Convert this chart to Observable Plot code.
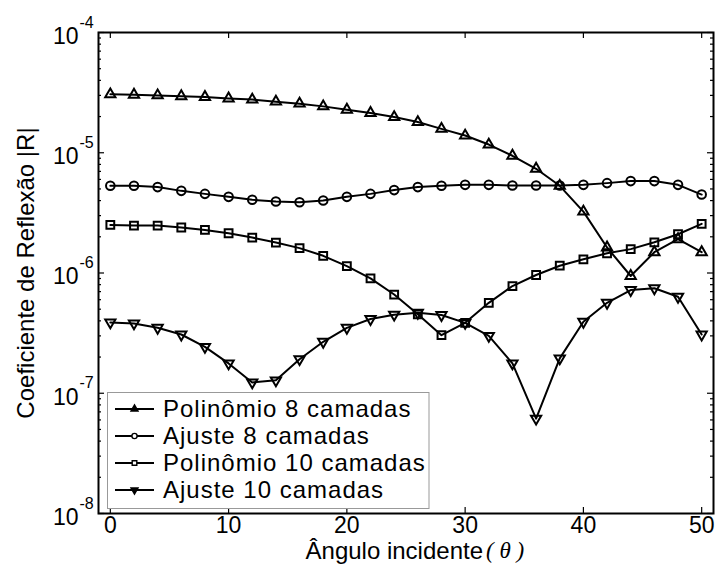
<!DOCTYPE html>
<html><head><meta charset="utf-8">
<script src="https://cdn.jsdelivr.net/npm/d3@7"></script>
<script src="https://cdn.jsdelivr.net/npm/@observablehq/plot@0.6"></script>
<style>body{margin:0;background:#fff} svg{display:block}</style>
</head><body><div id="chart"></div>
<script>
// ---- data ----
const theta = [0,2,4,6,8,10,12,14,16,18,20,22,24,26,28,30,32,34,36,38,40,42,44,46,48,50];
const poly8 = [3.06e-5,3.04e-5,3.0e-5,2.95e-5,2.91e-5,2.83e-5,2.77e-5,2.66e-5,2.56e-5,2.43e-5,2.28e-5,2.14e-5,1.98e-5,1.80e-5,1.58e-5,1.39e-5,1.17e-5,9.44e-6,7.36e-6,5.31e-6,3.24e-6,1.63e-6,9.44e-7,1.49e-6,1.91e-6,1.49e-6];
const fit8 = [5.31e-6,5.31e-6,5.18e-6,4.82e-6,4.55e-6,4.30e-6,4.06e-6,3.93e-6,3.88e-6,4.01e-6,4.30e-6,4.55e-6,4.89e-6,5.18e-6,5.31e-6,5.41e-6,5.41e-6,5.34e-6,5.34e-6,5.34e-6,5.41e-6,5.59e-6,5.81e-6,5.81e-6,5.41e-6,4.49e-6];
const poly10 = [2.51e-6,2.48e-6,2.48e-6,2.39e-6,2.28e-6,2.14e-6,1.97e-6,1.79e-6,1.61e-6,1.39e-6,1.14e-6,9.03e-7,6.62e-7,4.53e-7,3.04e-7,3.85e-7,5.65e-7,7.79e-7,9.62e-7,1.15e-6,1.30e-6,1.46e-6,1.58e-6,1.80e-6,2.10e-6,2.56e-6];
const fit10 = [3.88e-7,3.81e-7,3.50e-7,3.08e-7,2.43e-7,1.77e-7,1.23e-7,1.28e-7,1.92e-7,2.68e-7,3.50e-7,4.14e-7,4.50e-7,4.67e-7,4.47e-7,3.85e-7,3.00e-7,1.77e-7,6.15e-8,1.95e-7,3.93e-7,5.65e-7,7.22e-7,7.46e-7,6.35e-7,3.08e-7];
const seriesNames = ["Polinômio 8 camadas","Ajuste 8 camadas","Polinômio 10 camadas","Ajuste 10 camadas"];
const xTicks = [0,10,20,30,40,50];
const yExponents = [-8,-7,-6,-5,-4];
const xTitle = "Ângulo incidente";
const xTitleSym = "( θ )";
const yTitle = "Coeficiente de Reflexão |R|";

// ---- build table ----
const allSeries = [poly8, fit8, poly10, fit10];
const rows = [];
allSeries.forEach((vals, k) => vals.forEach((v, j) => rows.push({theta: theta[j], value: v, series: seriesNames[k], k})));
const yMajor = yExponents.map(e => Math.pow(10, e));
const yMinor = [];
yExponents.slice(0, -1).forEach(e => { for (let m = 2; m <= 9; m++) yMinor.push(m * Math.pow(10, e)); });

const W = 716, H = 575, ML = 98, MR = 3, MT = 32, MB = 62;
const FW = W - ML - MR, FH = H - MT - MB;
const FONT = "Liberation Sans, Arial, Helvetica, sans-serif";

const symCfg = [
  {symbol: "triangle", r: 3.8, rotate: 0, legendFill: "black"},
  {symbol: "circle", r: 4.3, rotate: 0, legendFill: "white"},
  {symbol: "square", r: 4.4, rotate: 0, legendFill: "white"},
  {symbol: "triangle", r: 3.8, rotate: 180, legendFill: "black"}
];

const plot = Plot.plot({
  width: W, height: H,
  marginLeft: ML, marginRight: MR, marginTop: MT, marginBottom: MB,
  style: {fontFamily: FONT, background: "white", color: "black"},
  x: {domain: [-1, 51], axis: null},
  y: {type: "log", domain: [1e-8, 1e-4], axis: null},
  marks: [
    Plot.line(rows, {x: "theta", y: "value", z: "series", stroke: "black", strokeWidth: 2}),
    ...symCfg.map((c, k) => Plot.dot(rows.filter(d => d.k === k), {
      x: "theta", y: "value", symbol: c.symbol, r: c.r, rotate: c.rotate,
      fill: "none", stroke: "black", strokeWidth: 2
    })),
    // inward ticks
    Plot.tickY(yMajor, {y: d => d, insetRight: FW - 6, stroke: "black", strokeWidth: 1.2}),
    Plot.tickY(yMajor, {y: d => d, insetLeft: FW - 6, stroke: "black", strokeWidth: 1.2}),
    Plot.tickY(yMinor, {y: d => d, insetRight: FW - 3, stroke: "black", strokeWidth: 1.2}),
    Plot.tickY(yMinor, {y: d => d, insetLeft: FW - 3, stroke: "black", strokeWidth: 1.2}),
    Plot.tickX(xTicks, {x: d => d, insetTop: FH - 6, stroke: "black", strokeWidth: 1.2}),
    Plot.tickX(xTicks, {x: d => d, insetBottom: FH - 6, stroke: "black", strokeWidth: 1.2}),
    Plot.frame({stroke: "black", strokeWidth: 2}),
    // tick labels
    Plot.text(yMajor, {y: d => d, text: () => "10", frameAnchor: "left", textAnchor: "end", dx: -20, dy: 4, fontSize: 23, fill: "black"}),
    Plot.text(yExponents, {y: d => Math.pow(10, d), text: d => String(d), frameAnchor: "left", textAnchor: "start", dx: -19, dy: -10, fontSize: 16, fill: "black"}),
    Plot.text(xTicks, {x: d => d, text: d => String(d), frameAnchor: "bottom", dy: 19, fontSize: 23, fill: "black"}),
    // titles
    Plot.text([xTitle], {text: d => d, frameAnchor: "bottom", textAnchor: "end", dx: 77, dy: 45, fontSize: 24, fill: "black"}),
    Plot.text([xTitleSym], {text: d => d, frameAnchor: "bottom", textAnchor: "start", dx: 80, dy: 44, fontSize: 23, fontFamily: "Liberation Serif, Times New Roman, serif", fontStyle: "italic", fill: "black"}),
    Plot.text([yTitle], {text: d => d, frameAnchor: "left", textAnchor: "middle", rotate: -90, dx: -72, fontSize: 24, fill: "black"})
  ]
});
document.getElementById("chart").appendChild(plot);

// ---- legend ----
const svg = d3.select(plot);
const lg = svg.append("g").attr("font-family", FONT).attr("text-anchor", "start");
lg.append("rect").attr("x", 107.5).attr("y", 392.5).attr("width", 321.5).attr("height", 116)
  .attr("fill", "white").attr("stroke", "#999").attr("stroke-width", 1);
const d3sym = {triangle: d3.symbolTriangle, circle: d3.symbolCircle, square: d3.symbolSquare};
seriesNames.forEach((name, i) => {
  const y = 409 + i * 27;
  lg.append("line").attr("x1", 115).attr("x2", 154).attr("y1", y).attr("y2", y).attr("stroke", "black").attr("stroke-width", 2);
  const c = symCfg[i];
  lg.append("path").attr("d", d3.symbol(d3sym[c.symbol], Math.PI * 2.6 * 2.6)())
    .attr("transform", `translate(134.5,${y}) rotate(${c.rotate})`)
    .attr("fill", c.legendFill).attr("stroke", "black").attr("stroke-width", 1.4);
  lg.append("text").attr("x", 163).attr("y", y).attr("dy", "0.35em").attr("font-size", 24)
    .attr("text-anchor", "start").attr("letter-spacing", 1).attr("fill", "black").text(name);
});
</script>
</body></html>
